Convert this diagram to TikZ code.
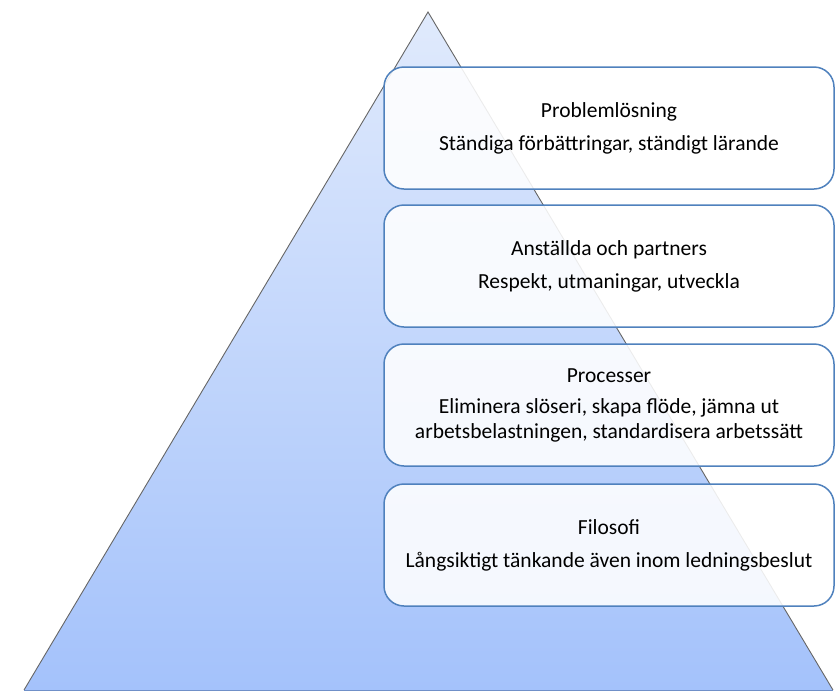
\documentclass[tikz,border=0pt]{standalone}
\usepackage{fontspec}
\setmainfont{Carlito}
\usepackage{tikz}

\definecolor{boxblue}{HTML}{4F81BD}
\definecolor{pyrtop}{HTML}{E0EAFC}
\definecolor{pyrbottom}{HTML}{A4C2FB}
\definecolor{pyrbase}{HTML}{7090C8}

\tikzset{
  tierbox/.style={draw=boxblue, line width=1.5pt, rounded corners=20pt,
    fill=white, fill opacity=0.88, text opacity=1,
    minimum width=450pt, minimum height=122pt, align=center,
    font=\fontsize{21.5}{25}\selectfont}
}

\begin{document}
\begin{tikzpicture}[x=1pt,y=-1pt]
\useasboundingbox (0,0) rectangle (835,691);
\coordinate (apex) at (428,12);
\coordinate (bl) at (24,690);
\coordinate (br) at (833,690);
\shade[top color=pyrtop, bottom color=pyrbottom] (apex)--(bl)--(br)--cycle;
\draw[black!60, line width=0.9pt] (bl)--(apex)--(br);
\draw[pyrbase, line width=1pt] (bl)--(br);
\node[tierbox] (problem) at (609,128) {Problemlösning\\[8pt]Ständiga förbättringar, ständigt lärande};
\node[tierbox] (people) at (609,266) {Anställda och partners\\[8pt]Respekt, utmaningar, utveckla};
\node[tierbox] (process) at (609,405) {Processer\\[6pt]Eliminera slöseri, skapa flöde, jämna ut\\arbetsbelastningen, standardisera arbetssätt};
\node[tierbox] (philosophy) at (609,545) {Filosofi\\[8pt]Långsiktigt tänkande även inom ledningsbeslut};
\end{tikzpicture}
\end{document}
